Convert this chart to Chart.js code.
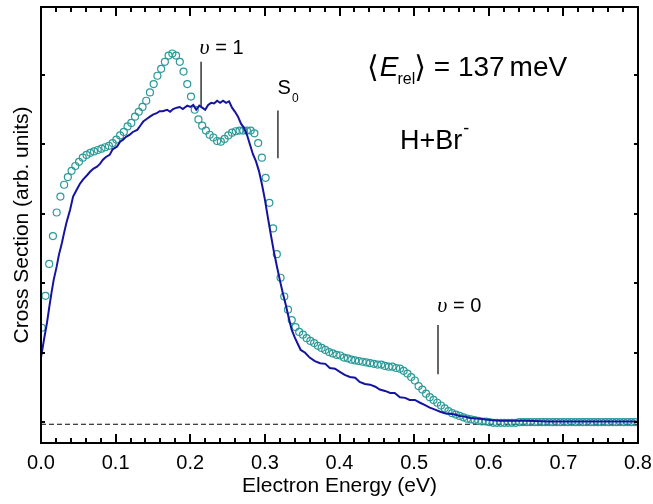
<!DOCTYPE html>
<html>
<head>
<meta charset="utf-8">
<script src="https://cdn.jsdelivr.net/npm/chart.js@4"></script>
<style>
  html, body { margin: 0; padding: 0; background: #fff; }
</style>
</head>
<body>
<canvas id="xsec" width="653" height="504"></canvas>
<script>
// electron spectrum, solid line (measured)
var blueEnergy = [
  0.000,0.004,0.008,0.011,0.014,0.017,0.021,0.024,0.028,0.031,
  0.034,0.039,0.043,0.048,0.052,0.056,0.062,0.066,0.070,0.075,
  0.079,0.083,0.087,0.092,0.096,0.102,0.106,0.110,0.114,0.119,
  0.123,0.129,0.133,0.137,0.142,0.146,0.150,0.155,0.159,0.163,
  0.169,0.173,0.177,0.182,0.186,0.190,0.196,0.200,0.204,0.208,
  0.212,0.216,0.220,0.224,0.228,0.232,0.236,0.240,0.244,0.248,
  0.252,0.256,0.260,0.264,0.268,0.272,0.276,0.280,0.284,0.288,
  0.292,0.296,0.300,0.304,0.308,0.312,0.316,0.320,0.324,0.328,
  0.332,0.336,0.340,0.344,0.348,0.354,0.360,0.367,0.374,0.381,
  0.387,0.394,0.401,0.407,0.414,0.421,0.427,0.434,0.441,0.448,
  0.454,0.461,0.468,0.474,0.481,0.488,0.494,0.501,0.508,0.514,
  0.521,0.528,0.535,0.541,0.548,0.555,0.561,0.568,0.575,0.588,
  0.602,0.615,0.628,0.650,0.680,0.710,0.740,0.770,0.800
];
var blueSignal = [
  0.93,1.19,1.43,1.65,1.86,2.05,2.24,2.41,2.58,2.73,
  2.87,3.06,3.25,3.35,3.43,3.49,3.56,3.61,3.65,3.68,
  3.72,3.78,3.82,3.85,3.93,3.97,4.04,4.07,4.11,4.14,
  4.18,4.21,4.27,4.33,4.37,4.40,4.43,4.45,4.48,4.48,
  4.50,4.47,4.51,4.53,4.54,4.51,4.56,4.54,4.57,4.50,
  4.56,4.53,4.50,4.57,4.60,4.59,4.63,4.60,4.63,4.60,
  4.62,4.53,4.47,4.40,4.30,4.24,4.14,4.00,3.86,3.76,
  3.62,3.43,3.21,2.95,2.70,2.46,2.25,2.05,1.86,1.69,
  1.50,1.33,1.22,1.13,1.04,1.00,0.93,0.88,0.85,0.84,
  0.78,0.77,0.72,0.68,0.65,0.64,0.58,0.55,0.54,0.51,
  0.47,0.45,0.42,0.42,0.36,0.35,0.32,0.32,0.28,0.25,
  0.21,0.18,0.15,0.13,0.12,0.11,0.09,0.08,0.06,0.05,
  0.03,0.02,0.02,0.02,0.01,0.01,0.01,0.01,0.01
];

// open circles
var tealEnergy = [
  0.001,0.006,0.011,0.016,0.021,0.026,0.031,0.036,0.041,0.046,
  0.051,0.056,0.061,0.066,0.071,0.076,0.081,0.086,0.091,0.096,
  0.101,0.106,0.111,0.116,0.121,0.126,0.131,0.136,0.141,0.146,
  0.151,0.156,0.161,0.166,0.171,0.176,0.181,0.186,0.191,0.196,
  0.201,0.206,0.211,0.216,0.221,0.226,0.231,0.236,0.241,0.246,
  0.251,0.256,0.261,0.266,0.271,0.276,0.281,0.286,0.291,0.296,
  0.301,0.306,0.311,0.316,0.321,0.326,0.331,0.336,0.341,0.346,
  0.351,0.356,0.361,0.366,0.371,0.376,0.381,0.386,0.391,0.396,
  0.401,0.406,0.411,0.416,0.421,0.426,0.431,0.436,0.441,0.446,
  0.451,0.456,0.461,0.466,0.471,0.476,0.481,0.486,0.491,0.496,
  0.501,0.506,0.511,0.516,0.521,0.526,0.531,0.536,0.541,0.546,
  0.551,0.556,0.561,0.566,0.571,0.576,0.581,0.586,0.591,0.596,
  0.601,0.606,0.611,0.616,0.621,0.626,0.631,0.636,0.641,0.646,
  0.651,0.656,0.661,0.666,0.671,0.676,0.681,0.686,0.691,0.696,
  0.701,0.706,0.711,0.716,0.721,0.726,0.731,0.736,0.741,0.746,
  0.751,0.756,0.761,0.766,0.771,0.776,0.781,0.786,0.791,0.796
];
var tealSignal = [
  1.36,1.82,2.28,2.68,3.02,3.25,3.42,3.53,3.62,3.69,
  3.75,3.81,3.85,3.88,3.90,3.92,3.94,3.96,3.98,4.02,
  4.07,4.13,4.18,4.26,4.31,4.40,4.47,4.54,4.63,4.75,
  4.87,4.99,5.09,5.19,5.28,5.31,5.28,5.19,5.05,4.87,
  4.69,4.50,4.36,4.27,4.20,4.14,4.10,4.05,4.04,4.08,
  4.13,4.17,4.19,4.20,4.20,4.20,4.20,4.16,4.02,3.81,
  3.52,3.16,2.79,2.42,2.08,1.81,1.62,1.47,1.37,1.30,
  1.26,1.21,1.17,1.14,1.10,1.07,1.04,1.01,0.99,0.97,
  0.96,0.93,0.92,0.90,0.89,0.88,0.87,0.86,0.85,0.84,
  0.83,0.83,0.81,0.80,0.80,0.78,0.77,0.74,0.70,0.65,
  0.60,0.52,0.47,0.41,0.36,0.32,0.28,0.24,0.20,0.16,
  0.13,0.11,0.09,0.07,0.05,0.04,0.03,0.02,0.01,0.01,
  0.00,-0.01,-0.01,-0.01,-0.01,-0.01,-0.01,-0.01,0.00,0.00,
  0.00,0.00,0.00,0.00,0.00,0.00,0.00,0.00,0.00,0.00,
  0.00,0.00,0.00,0.00,0.00,0.00,0.00,0.00,0.00,0.00,
  0.00,0.00,0.00,0.00,0.00,0.00,0.00,0.00,0.00,0.00
];

// zero level (dashed)
var zeroEnergy = [0.0, 0.8];
var zeroLevel = [-0.03, -0.03];

// threshold markers: v = 1, S0, v = 0
var markEnergy = [0.2145, 0.3175, 0.532];
var markLow = [4.55, 3.80, 0.69];
var markHigh = [5.19, 4.49, 1.40];

// minor tick step on the energy axis, major every 5th
var xMinorStep = 0.02;

var SANS = '"Liberation Sans", Arial, sans-serif';
Chart.defaults.font.family = SANS;
Chart.defaults.color = '#000';

function pts(xs, ys) {
  return xs.map(function (x, i) { return { x: x, y: ys[i] }; });
}

var datasets = [
  {
    label: 'line',
    data: pts(blueEnergy, blueSignal),
    showLine: true,
    borderColor: '#1414a0',
    borderWidth: 2,
    pointRadius: 0,
    tension: 0,
    order: 0
  },
  {
    label: 'circles',
    data: pts(tealEnergy, tealSignal),
    showLine: false,
    pointStyle: 'circle',
    pointRadius: 3.5,
    pointBorderWidth: 1.2,
    borderColor: '#2a9a98',
    backgroundColor: 'rgba(0,0,0,0)',
    order: 1
  },
  {
    label: 'zero',
    data: pts(zeroEnergy, zeroLevel),
    showLine: true,
    borderColor: '#000',
    borderWidth: 1,
    borderDash: [5, 3],
    pointRadius: 0,
    order: 2
  }
];
markEnergy.forEach(function (e, i) {
  datasets.push({
    label: 'mark' + i,
    data: [{ x: e, y: markLow[i] }, { x: e, y: markHigh[i] }],
    showLine: true,
    borderColor: '#000',
    borderWidth: 1.2,
    pointRadius: 0,
    order: 2
  });
});

function drawTicks(chart) {
  var ctx = chart.ctx, a = chart.chartArea;
  var sx = chart.scales.x, sy = chart.scales.y;
  ctx.save();
  ctx.fillStyle = '#000';
  ctx.beginPath();
  var n = Math.round(0.8 / xMinorStep);
  for (var k = 0; k <= n; k++) {
    var tx = Math.round(sx.getPixelForValue(k * xMinorStep));
    var len = (k % 5 === 0) ? 9 : 5;
    ctx.rect(tx - 1, a.bottom - len, 2, len);
    ctx.rect(tx - 1, a.top, 2, len);
  }
  for (var j = 0; j <= 5; j++) {
    var ty = Math.round(sy.getPixelForValue(j));
    ctx.rect(a.left, ty - 1, 4, 2);
    ctx.rect(a.right - 4, ty - 1, 4, 2);
  }
  ctx.fill();
  ctx.restore();
}

var frame = {
  id: 'frame',
  afterDatasetsDraw: function (chart) { drawTicks(chart); },
  afterDraw: function (chart) {
    var ctx = chart.ctx, a = chart.chartArea;
    var sx = chart.scales.x, sy = chart.scales.y;
    drawTicks(chart);
    ctx.save();
    ctx.strokeStyle = '#000';
    ctx.lineWidth = 2;
    ctx.setLineDash([]);
    ctx.strokeRect(a.left, a.top, a.right - a.left, a.bottom - a.top);

    // labels
    function at(xv, yv) { return [sx.getPixelForValue(xv), sy.getPixelForValue(yv)]; }
    function put(s, x0, y0, font) { ctx.font = font; ctx.fillText(s, x0, y0); return x0 + ctx.measureText(s).width; }
    ctx.fillStyle = '#000';
    ctx.textBaseline = 'alphabetic';
    ctx.textAlign = 'left';

    var p = at(0.2125, 5.31);
    var cx = put('\u03c5', p[0], p[1], 'italic 22px "Liberation Serif", serif');
    put(' = 1', cx, p[1], '20px ' + SANS);

    p = at(0.317, 4.72);
    cx = put('S', p[0], p[1], '20px ' + SANS);
    put('0', cx + 1, p[1] + 8, '12px ' + SANS);

    p = at(0.531, 1.59);
    cx = put('\u03c5', p[0], p[1], 'italic 22px "Liberation Serif", serif');
    put(' = 0', cx, p[1], '20px ' + SANS);

    p = at(0.437, 4.98);
    cx = put('\u27e8', p[0], p[1] + 1, '30px "DejaVu Sans", sans-serif');
    cx = put('E', cx + 1, p[1], 'italic 28px ' + SANS);
    cx = put('rel', cx - 1, p[1] + 8, '16px ' + SANS);
    cx = put('\u27e9', cx - 1, p[1] + 1, '30px "DejaVu Sans", sans-serif');
    cx = put(' = 137', cx, p[1], '28px ' + SANS);
    put('meV', cx + 5, p[1], '28px ' + SANS);

    p = at(0.481, 3.94);
    cx = put('H+Br', p[0], p[1], '27px ' + SANS);
    put('-', cx + 1, p[1] - 15, '18px ' + SANS);
    ctx.restore();
  }
};

new Chart(document.getElementById('xsec').getContext('2d'), {
  type: 'scatter',
  data: { datasets: datasets },
  options: {
    responsive: false,
    animation: false,
    layout: { padding: { top: 7, right: 15, left: 0, bottom: 0 } },
    plugins: { legend: { display: false }, tooltip: { enabled: false } },
    scales: {
      x: {
        type: 'linear',
        min: 0,
        max: 0.8,
        grid: { display: false },
        border: { display: false },
        ticks: {
          stepSize: 0.1,
          padding: 0,
          font: { size: 20 },
          maxRotation: 0,
          callback: function (v) { return v.toFixed(1); }
        },
        title: {
          display: true,
          text: 'Electron Energy (eV)',
          font: { size: 21 },
          padding: { top: 0, bottom: 5 }
        },
        afterFit: function (s) { s.height = 61; }
      },
      y: {
        type: 'linear',
        min: -0.3,
        max: 5.98,
        grid: { display: false },
        border: { display: false },
        ticks: { display: false, stepSize: 1 },
        title: {
          display: true,
          text: 'Cross Section (arb. units)',
          font: { size: 21 },
          padding: { top: 10, bottom: 0 }
        },
        afterFit: function (s) { s.width = 41; }
      }
    }
  },
  plugins: [frame]
});
</script>
</body>
</html>
